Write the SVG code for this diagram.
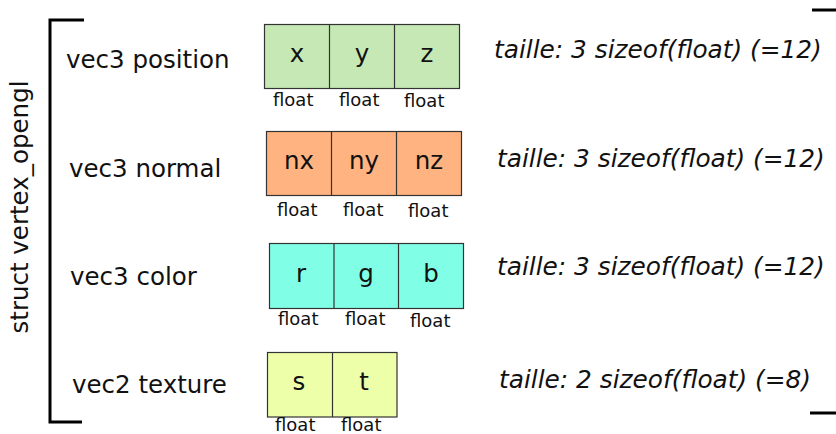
<svg xmlns="http://www.w3.org/2000/svg" width="836" height="434" viewBox="0 0 836 434">
<style>
text{font-family:"DejaVu Sans","Liberation Sans",sans-serif;fill:#111}
.lbl{font-size:24.5px}
.cell{font-size:24.5px;text-anchor:middle}
.fl{font-size:18px}
.sz{font-size:24.8px;font-style:italic}
.box{stroke:#333;stroke-width:1.2}
.br{fill:none;stroke:#000;stroke-width:3}
</style>
<rect width="836" height="434" fill="#fff"/>
<g id="brackets">
<path class="br" d="M84 20H50V422H82"/>
<path class="br" d="M812 10H836M810 413H836"/>
<text class="lbl" transform="translate(28 207) rotate(-90)" text-anchor="middle">struct vertex_opengl</text>
</g>
<g id="position">
<text class="lbl" x="66" y="68">vec3 position</text>
<rect class="box" x="264.5" y="24.5" width="195" height="64" fill="#c6e8b4"/>
<path class="box" d="M329.5 24.5V88.5M394.5 24.5V88.5"/>
<text class="cell" x="297" y="62">x</text>
<text class="cell" x="362" y="62">y</text>
<text class="cell" x="427" y="62">z</text>
<text class="fl" x="273" y="106">float</text>
<text class="fl" x="339" y="106">float</text>
<text class="fl" x="404" y="107">float</text>
<text class="sz" x="494" y="58">taille: 3 sizeof(float) (=12)</text>
</g>
<g id="normal">
<text class="lbl" x="69" y="177">vec3 normal</text>
<rect class="box" x="266.5" y="131.5" width="195" height="64" fill="#ffb380"/>
<path class="box" d="M331.5 131.5V195.5M396.5 131.5V195.5"/>
<text class="cell" x="299" y="169">nx</text>
<text class="cell" x="364" y="169">ny</text>
<text class="cell" x="429" y="169">nz</text>
<text class="fl" x="277" y="216">float</text>
<text class="fl" x="343" y="216">float</text>
<text class="fl" x="408" y="217">float</text>
<text class="sz" x="497" y="167">taille: 3 sizeof(float) (=12)</text>
</g>
<g id="color">
<text class="lbl" x="70" y="285">vec3 color</text>
<rect class="box" x="269.5" y="243.5" width="194" height="65" fill="#80ffe6"/>
<path class="box" d="M334 243.5V308.5M398.5 243.5V308.5"/>
<text class="cell" x="301" y="282">r</text>
<text class="cell" x="366" y="282">g</text>
<text class="cell" x="431" y="282">b</text>
<text class="fl" x="278" y="325">float</text>
<text class="fl" x="345" y="325">float</text>
<text class="fl" x="410" y="327">float</text>
<text class="sz" x="497" y="275">taille: 3 sizeof(float) (=12)</text>
</g>
<g id="texture">
<text class="lbl" x="72" y="393">vec2 texture</text>
<rect class="box" x="267.5" y="352.5" width="129.5" height="64.5" fill="#eeffaa"/>
<path class="box" d="M332.5 352.5V417"/>
<text class="cell" x="299" y="390">s</text>
<text class="cell" x="364" y="390">t</text>
<text class="fl" x="275" y="431">float</text>
<text class="fl" x="341" y="431">float</text>
<text class="sz" x="499" y="388">taille: 2 sizeof(float) (=8)</text>
</g>
<g id="connectors"/>
</svg>
